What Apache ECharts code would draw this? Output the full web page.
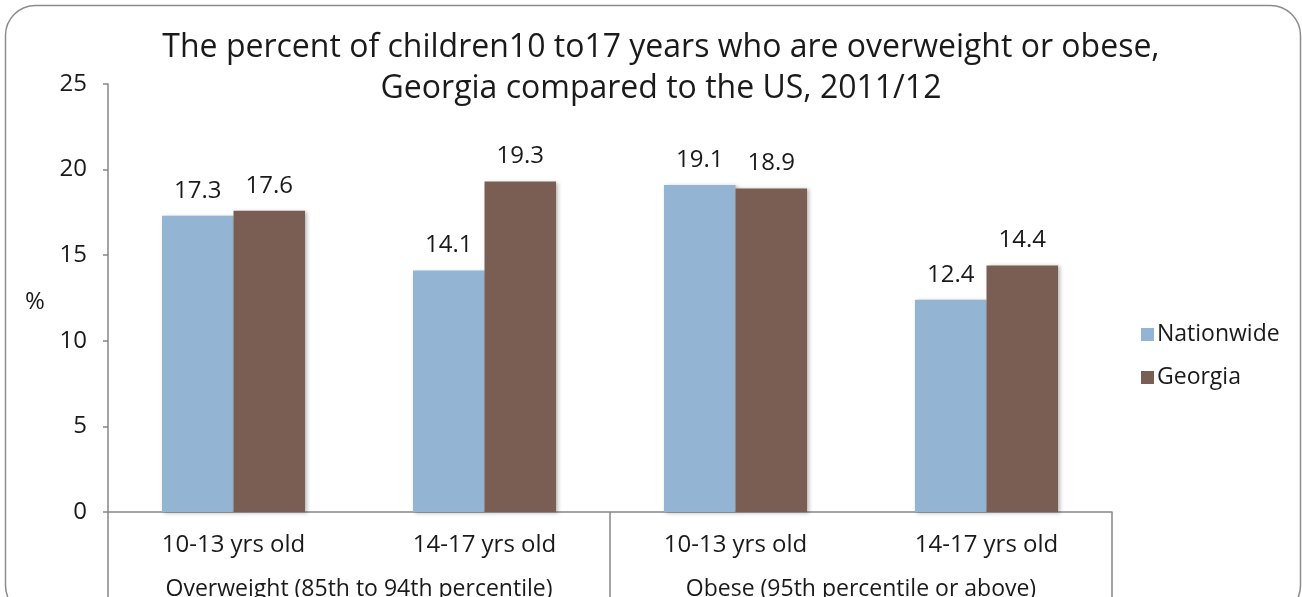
<!DOCTYPE html>
<html>
<head>
<meta charset="utf-8">
<script src="https://cdn.jsdelivr.net/npm/echarts@6/dist/echarts.min.js"></script>
<style>
  html, body { margin: 0; padding: 0; background: #fff; }
  #chart { width: 1302px; height: 597px; }
</style>
</head>
<body>
<div id="chart"></div>
<script>
// Age bands within each weight group
const ageBands = ['10-13 yrs old', '14-17 yrs old', '10-13 yrs old', '14-17 yrs old'];
// Weight groups, each spanning two age bands
const weightGroups = ['Overweight (85th to 94th percentile)', 'Obese (95th percentile or above)'];
// Percent of children, per age band
const nationwide = [17.3, 14.1, 19.1, 12.4];
const georgia = [17.6, 19.3, 18.9, 14.4];
const yTicks = { min: 0, max: 25, interval: 5 };

const FONT = '"Open Sans", "Noto Sans", sans-serif';
const TEXT = '#1a1a1a';
const AXIS = '#868686';
const SIZE = 24;

const chart = echarts.init(document.getElementById('chart'), null, { renderer: 'canvas' });

const barLabel = {
  show: true,
  position: 'top',
  distance: 13,
  fontFamily: FONT,
  fontSize: SIZE,
  color: TEXT
};
const barShadow = {
  shadowBlur: 4,
  shadowOffsetX: 2,
  shadowOffsetY: 1,
  shadowColor: 'rgba(0,0,0,0.28)'
};

chart.setOption({
  animation: false,
  backgroundColor: '#fff',
  textStyle: { fontFamily: FONT },
  graphic: [{
    type: 'rect',
    shape: { x: 5.5, y: 5.5, width: 1295, height: 610, r: 30 },
    style: { fill: 'none', stroke: '#8c8c8c', lineWidth: 1.5 },
    silent: true,
    z: -1
  }, {
    type: 'text',
    left: 25,
    top: 290,
    style: { text: '%', fontFamily: FONT, fontSize: SIZE, fill: TEXT }
  }],
  title: {
    text: 'The percent of children10 to17 years who are overweight or obese,\nGeorgia compared to the US, 2011/12',
    left: 656,
    top: 22,
    textAlign: 'center',
    textStyle: {
      fontFamily: FONT,
      fontSize: 32,
      fontWeight: 'normal',
      color: TEXT,
      lineHeight: 41
    }
  },
  legend: {
    orient: 'vertical',
    left: 1136,
    top: 318,
    itemWidth: 13,
    itemHeight: 13,
    itemGap: 20,
    icon: 'rect',
    textStyle: { fontFamily: FONT, fontSize: 23, color: TEXT, padding: [0, 0, 0, -2] },
    data: ['Nationwide', 'Georgia']
  },
  grid: { left: 108, right: 190, top: 84, bottom: 85, containLabel: false, outerBoundsMode: 'none' },
  xAxis: [{
    type: 'category',
    data: ageBands,
    position: 'bottom',
    axisLine: { show: true, lineStyle: { color: AXIS, width: 1.5 } },
    axisTick: { show: false },
    axisLabel: { margin: 21, fontFamily: FONT, fontSize: SIZE, color: TEXT }
  }, {
    type: 'category',
    data: weightGroups,
    position: 'bottom',
    boundaryGap: true,
    axisLine: { show: false },
    axisTick: { show: true, length: 90, lineStyle: { color: AXIS, width: 1.5 } },
    axisLabel: { margin: 66, fontFamily: FONT, fontSize: 23, color: TEXT, interval: 0 }
  }],
  yAxis: {
    type: 'value',
    min: yTicks.min,
    max: yTicks.max,
    interval: yTicks.interval,
    axisLine: { show: true, lineStyle: { color: AXIS, width: 1.5 } },
    axisTick: { show: true, length: 5, lineStyle: { color: AXIS, width: 1.5 } },
    splitLine: { show: false },
    axisLabel: { margin: 21, fontFamily: FONT, fontSize: SIZE, color: TEXT }
  },
  series: [{
    name: 'Nationwide',
    type: 'bar',
    xAxisIndex: 0,
    data: nationwide,
    barGap: '0%',
    barCategoryGap: '43%',
    itemStyle: Object.assign({ color: '#93B4D3' }, barShadow),
    label: barLabel
  }, {
    name: 'Georgia',
    type: 'bar',
    xAxisIndex: 0,
    data: georgia,
    barGap: '0%',
    barCategoryGap: '43%',
    itemStyle: Object.assign({ color: '#7A5E54' }, barShadow),
    label: barLabel
  }]
});
</script>
</body>
</html>
